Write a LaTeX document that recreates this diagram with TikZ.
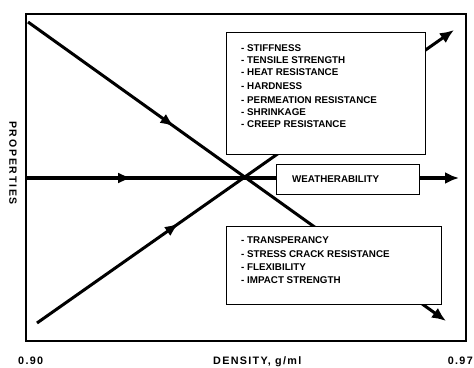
\documentclass[tikz,border=0pt]{standalone}
\usepackage{fontspec}
\setmainfont{Liberation Sans}
\usetikzlibrary{arrows.meta,decorations.markings}
\tikzset{
  frame/.style={draw=black,line width=1.5pt},
  box/.style={draw=black,line width=1.3pt,fill=white},
  mainline/.style={draw=black,line width=3pt,-{Latex[length=14pt,width=12pt]},
    postaction={decorate}},
  midarrow/.style={decoration={markings,
    mark=at position #1 with {\arrow{Latex[length=14pt,width=11pt]}}}},
  lbl/.style={font=\fontsize{9.8}{12}\selectfont\bfseries,inner sep=0pt,anchor=base west},
  axlbl/.style={font=\fontsize{10.8}{12}\selectfont\bfseries\addfontfeature{LetterSpace=12},inner sep=0pt},
}
\begin{document}
\begin{tikzpicture}[x=1pt,y=-1pt]
\useasboundingbox (0,0) rectangle (474,367);
% frame
\draw[frame] (26,14) rectangle (466,341);
% coordinates
\coordinate (dS) at (28,22);
\coordinate (dE) at (446,321);
\coordinate (aS) at (37,323);
\coordinate (aE) at (454,30);
\coordinate (hS) at (26,178);
\coordinate (hE) at (459,178);
% lines
\draw[mainline,midarrow=0.35] (dS) -- (dE);
\draw[mainline,midarrow=0.34] (aS) -- (aE);
\draw[mainline,line width=3.3pt,midarrow=0.245] (hS) -- (hE);
% boxes
\node[box,minimum width=199pt,minimum height=122pt,anchor=north west,inner sep=0pt] (ub) at (226,32) {};
\node[box,minimum width=143pt,minimum height=30pt,anchor=north west,inner sep=0pt] (wb) at (276,164) {};
\node[box,minimum width=215pt,minimum height=78pt,anchor=north west,inner sep=0pt] (lb) at (226,226) {};
% upper text
\node[lbl] (u1) at (241,51) {- STIFFNESS};
\node[lbl] (u2) at (241,63) {- TENSILE STRENGTH};
\node[lbl] (u3) at (241,75) {- HEAT RESISTANCE};
\node[lbl] (u4) at (241,89) {- HARDNESS};
\node[lbl] (u5) at (241,103) {- PERMEATION RESISTANCE};
\node[lbl] (u6) at (241,115) {- SHRINKAGE};
\node[lbl] (u7) at (241,127) {- CREEP RESISTANCE};
% weatherability
\node[lbl] (w1) at (292,182) {WEATHERABILITY};
% lower text
\node[lbl] (l1) at (241,243) {- TRANSPERANCY};
\node[lbl] (l2) at (241,257) {- STRESS CRACK RESISTANCE};
\node[lbl] (l3) at (241,270) {- FLEXIBILITY};
\node[lbl] (l4) at (241,283) {- IMPACT STRENGTH};
% axis labels
\node[axlbl,anchor=base west] (x0) at (18,364) {0.90};
\node[axlbl,anchor=base west] (xl) at (213,364) {DENSITY, g/ml};
\node[axlbl,anchor=base east] (x1) at (473,364) {0.97};
\node[font=\fontsize{10.5}{12}\selectfont\bfseries\addfontfeature{LetterSpace=17},inner sep=0pt,rotate=-90] (yl) at (13,163) {PROPERTIES};
\end{tikzpicture}
\end{document}
